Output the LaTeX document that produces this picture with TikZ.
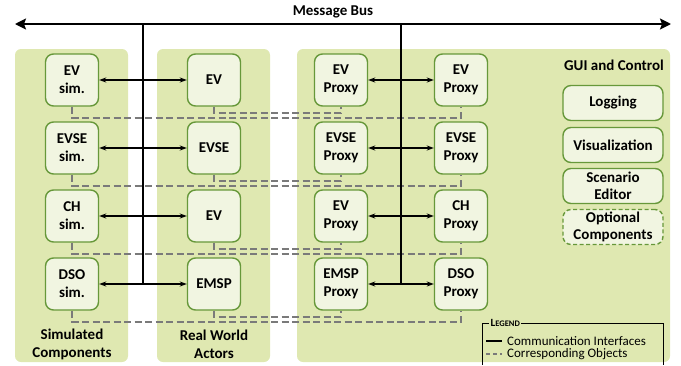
\documentclass[tikz,border=0pt]{standalone}
\usepackage{fontspec}
\setmainfont{Carlito}
\usetikzlibrary{arrows.meta}
\definecolor{panelfill}{HTML}{DFE8B1}
\definecolor{boxfill}{HTML}{F1F5E1}
\definecolor{boxline}{HTML}{67983A}
\definecolor{linkgrey}{HTML}{7A7A7A}

\begin{document}
\begin{tikzpicture}[x=1pt,y=-1pt,
  comp/.style={draw=boxline, fill=boxfill, line width=1.4pt, rounded corners=8pt,
    minimum width=53pt, minimum height=52pt, inner sep=0pt, align=center,
    font=\bfseries\fontsize{15}{18}\selectfont},
  tool/.style={comp, minimum width=100pt, minimum height=35pt,
    font=\bfseries\fontsize{15}{17}\selectfont},
  optional/.style={tool, dash pattern=on 4pt off 2.5pt},
  iface/.style={line width=1.3pt, {Stealth[length=7pt,width=5pt]}-{Stealth[length=7pt,width=5pt]}},
  busline/.style={line width=2pt},
  corr/.style={draw=linkgrey, line width=1.8pt, dash pattern=on 7pt off 3.5pt},
  paneltitle/.style={font=\bfseries\fontsize{15}{18}\selectfont, align=center, inner sep=0pt},
  legendtext/.style={font=\fontsize{13}{14}\selectfont, anchor=west, inner sep=0pt}]

\useasboundingbox (0,0) rectangle (681,365);

% background panels
\fill[panelfill, rounded corners=6pt] (15,49) rectangle (128,362);
\fill[panelfill, rounded corners=6pt] (157,49) rectangle (270,362);
\fill[panelfill, rounded corners=6pt] (297,49) rectangle (670,362);

% components, one row per kind of object
\node[comp] (s1) at (72,80)  {EV\\sim.};
\node[comp] (r1) at (214,80) {EV};
\node[comp] (p1) at (341,80) {EV\\Proxy};
\node[comp] (q1) at (461,80) {EV\\Proxy};

\node[comp] (s2) at (72,148)  {EVSE\\sim.};
\node[comp] (r2) at (214,148) {EVSE};
\node[comp] (p2) at (341,148) {EVSE\\Proxy};
\node[comp] (q2) at (461,148) {EVSE\\Proxy};

\node[comp] (s3) at (72,216)  {CH\\sim.};
\node[comp] (r3) at (214,216) {EV};
\node[comp] (p3) at (341,216) {EV\\Proxy};
\node[comp] (q3) at (461,216) {CH\\Proxy};

\node[comp] (s4) at (72,284)  {DSO\\sim.};
\node[comp] (r4) at (214,284) {EMSP};
\node[comp] (p4) at (341,284) {EMSP\\Proxy};
\node[comp] (q4) at (461,284) {DSO\\Proxy};

% corresponding objects
\foreach \i in {1,...,4}{
  \draw[corr] (r\i.south) -- ++(0,6) -| (p\i.south);
  \draw[corr] (s\i.south) -- ++(0,11) -| (q\i.south);
}

% message bus
\coordinate (busL) at (15,24);
\coordinate (busR) at (671,24);
\draw[busline, {Stealth[length=11pt,width=11pt,inset=2pt]}-{Stealth[length=11pt,width=11pt,inset=2pt]}] (busL) -- (busR);
\node[paneltitle] (bustitle) at (333,12) {Message Bus};

\coordinate (t1) at (143,24);
\coordinate (t2) at (401,24);
\draw[busline] (t1) -- (t1 |- s4.center);
\draw[busline] (t2) -- (t2 |- q4.center);

% communication interfaces
\foreach \i in {1,...,4}{
  \draw[iface] (s\i) -- (r\i);
  \draw[iface] (p\i) -- (q\i);
}

% panel titles
\node[paneltitle] (simtitle) at (72,344) {Simulated\\Components};
\node[paneltitle] (realtitle) at (214,344) {Real World\\Actors};
\node[paneltitle, anchor=east] (guititle) at (664,65) {GUI and Control};

% GUI and control tools
\node[tool] (log) at (613,103) {Logging};
\node[tool] (vis) at (613,145) {Visualization};
\node[tool] (scen) at (613,186) {Scenario\\Editor};
\node[optional] (opt) at (613,227) {Optional\\Components};

% legend
\draw[line width=0.8pt] (482,364.5) -- (482,323) -- (663,323) -- (663,364.5);
\node[fill=panelfill, inner sep=1.5pt, anchor=west] (legtitle) at (489,323)
  {\bfseries{\fontsize{11}{10}\selectfont L}{\fontsize{8.5}{10}\selectfont EGEND}};
\coordinate (la1) at (486,341);
\coordinate (lb1) at (502,341);
\draw[line width=2pt] (la1) -- (lb1);
\node[legendtext] (legcomm) at (507,341) {Communication Interfaces};
\coordinate (la2) at (486,354);
\coordinate (lb2) at (502,354);
\draw[draw=linkgrey, line width=1.2pt, dash pattern=on 4pt off 3pt] (la2) -- (lb2);
\node[legendtext] (legcorr) at (507,354) {Corresponding Objects};
\end{tikzpicture}
\end{document}
